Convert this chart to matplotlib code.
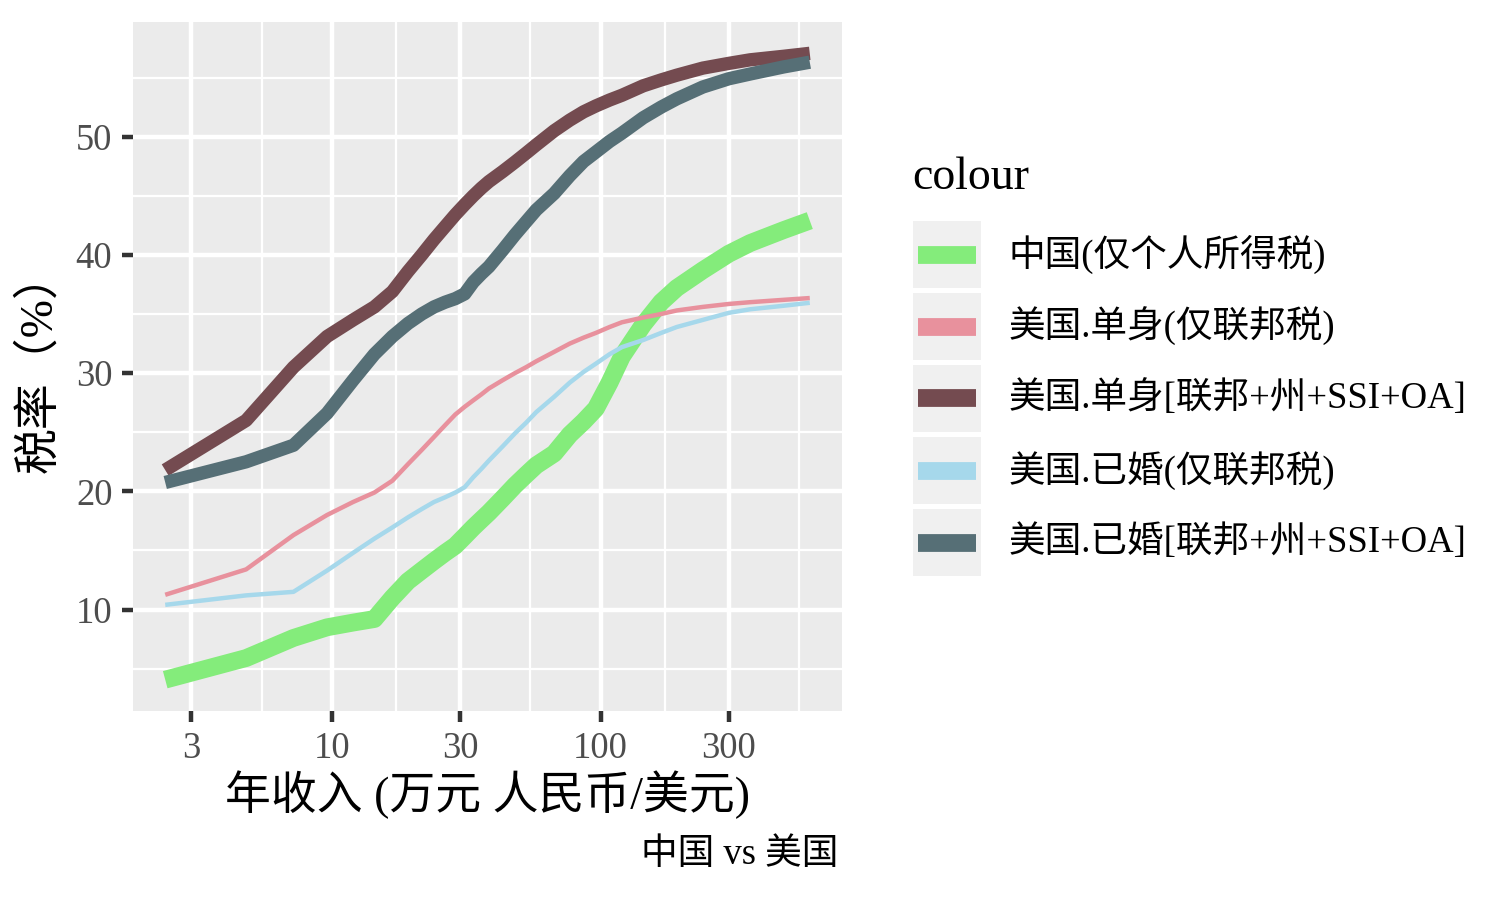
import matplotlib
matplotlib.use("Agg")
import matplotlib.pyplot as plt
import numpy as np
from matplotlib.lines import Line2D
from matplotlib.patches import Rectangle

FONT = ['Liberation Serif', 'Noto Sans CJK SC']
plt.rcParams['font.family'] = FONT

# ---------------- data ----------------
income = [2.4, 4.8, 7.2, 9.6, 12, 14.4, 16.8, 19.2, 21.6, 24, 26.4, 28.8, 31.2, 33.6, 36,
          38.4, 43.2, 48, 52.8, 57.6, 67.2, 76.8, 86.4, 96, 108, 120, 144, 168, 192, 240,
          300, 360, 480, 600]

china = [4.07, 5.9, 7.6, 8.5, 8.9, 9.2, 11.0, 12.4, 13.3, 14.1, 14.8, 15.4, 16.2, 16.95, 17.6,
         18.2, 19.4, 20.5, 21.4, 22.2, 23.2, 24.8, 25.9, 27.0, 29.2, 31.4, 34.1, 36.0, 37.2, 38.7,
         40.1, 41.0, 42.1, 42.9]

us_single_fed = [11.25, 13.4, 16.3, 18.0, 19.1, 19.9, 20.9, 22.3, 23.5, 24.6, 25.6, 26.5, 27.15,
                 27.7, 28.2, 28.7, 29.4, 30.0, 30.5, 31.0, 31.8, 32.5, 33.0, 33.4, 33.9, 34.3, 34.7,
                 35.0, 35.3, 35.6, 35.85, 36.0, 36.2, 36.35]

us_single_all = [21.8, 26.0, 30.5, 33.1, 34.5, 35.6, 36.9, 38.6, 40.0, 41.3, 42.4, 43.4, 44.25, 45.0,
                 45.65, 46.2, 47.05, 47.85, 48.6, 49.3, 50.5, 51.4, 52.1, 52.6, 53.1, 53.5, 54.3, 54.8,
                 55.2, 55.8, 56.2, 56.5, 56.8, 57.05]

us_married_fed = [10.4, 11.2, 11.5, 13.3, 14.8, 16.0, 16.95, 17.8, 18.5, 19.1, 19.5, 19.9, 20.35,
                  21.2, 21.9, 22.6, 23.8, 24.9, 25.8, 26.7, 28.0, 29.2, 30.1, 30.8, 31.6, 32.2, 32.8,
                  33.4, 33.9, 34.5, 35.1, 35.4, 35.7, 35.95]

us_married_all = [20.75, 22.5, 23.9, 26.6, 29.4, 31.6, 33.1, 34.2, 35.0, 35.6, 36.0, 36.3, 36.7,
                  37.7, 38.4, 39.0, 40.4, 41.7, 42.8, 43.8, 45.2, 46.7, 47.9, 48.7, 49.6, 50.3, 51.6,
                  52.5, 53.2, 54.2, 54.9, 55.3, 55.9, 56.3]

labels = ["中国(仅个人所得税)", "美国.单身(仅联邦税)", "美国.单身[联邦+州+SSI+OA]",
          "美国.已婚(仅联邦税)", "美国.已婚[联邦+州+SSI+OA]"]
colors = ["#84EC7B", "#E8919D", "#744B50", "#A6D8EB", "#566F76"]
x_ticks = [3, 10, 30, 100, 300]
y_ticks = [10, 20, 30, 40, 50]

# ---------------- figure ----------------
W, H = 1500, 900
fig = plt.figure(figsize=(5, 3), dpi=300)
fig.patch.set_facecolor("white")


def fx(px):
    return px / W


def fy(py):
    return 1 - py / H


left, right, top, bottom = 133, 842, 22, 711
ax = fig.add_axes([fx(left), fy(bottom), fx(right) - fx(left), (bottom - top) / H])
ax.set_facecolor("#EBEBEB")
for s in ax.spines.values():
    s.set_visible(False)

series = [china, us_single_fed, us_single_all, us_married_fed, us_married_all]
widths = [4.27, 1.07, 3.2, 1.07, 3.2]
zorders = [2, 4, 3, 5, 3.5]
for vals, c, lw, z in zip(series, colors, widths, zorders):
    ax.plot(income, vals, color=c, lw=lw, solid_capstyle="butt", solid_joinstyle="round",
            zorder=z)

ax.set_xscale("log")
lx = np.log10([min(income), max(income)])
rx = lx[1] - lx[0]
ax.set_xlim(10 ** (lx[0] - 0.05 * rx), 10 ** (lx[1] + 0.05 * rx))
allv = np.concatenate([np.array(s) for s in series])
ry = allv.max() - allv.min()
ax.set_ylim(allv.min() - 0.05 * ry, allv.max() + 0.05 * ry)

ax.set_xticks(x_ticks)
ax.set_xticklabels([str(t) for t in x_ticks])
lt = np.log10(x_ticks)
minor_x = list(10 ** ((lt[:-1] + lt[1:]) / 2)) + [10 ** (lt[-1] + (lt[1] - lt[0]) / 2)]
ax.set_xticks(minor_x, minor=True)
ax.xaxis.set_minor_formatter(matplotlib.ticker.NullFormatter())
ax.set_yticks(y_ticks)
ax.set_yticks([5, 15, 25, 35, 45, 55], minor=True)

ax.grid(True, which="major", color="white", lw=1.07, zorder=1)
ax.grid(True, which="minor", color="white", lw=0.53, zorder=1)
ax.set_axisbelow(True)
ax.tick_params(which="major", length=2.75, width=1.07, color="#333333", pad=2.2,
               labelsize=8.8, labelcolor="#4D4D4D")
ax.tick_params(which="minor", length=0)

# axis titles and caption
fig.text(fx((left + right) / 2), fy(795), "年收入 (万元 人民币/美元)", ha="center", va="center",
         fontsize=11, color="black")
fig.text(fx(39), fy(362), "税率（%）", ha="center", va="center",
         rotation=90, fontsize=11, color="black")
fig.text(fx(838), fy(855), "中国 vs 美国", ha="right", va="center", fontsize=8.8, color="black")

# legend (drawn manually to mimic ggplot2)
fig.text(fx(912), fy(178), "colour", ha="left", va="center", fontsize=11, color="black")
box_tops = [221, 293, 365, 437, 509]
box_h = 67
for t, lab, c in zip(box_tops, labels, colors):
    fig.add_artist(Rectangle((fx(913), fy(t + box_h)), (981 - 913) / W, box_h / H,
                             transform=fig.transFigure, facecolor="#F0F0F0", edgecolor="none"))
    fig.add_artist(Line2D([fx(918), fx(976)], [fy(t + box_h / 2), fy(t + box_h / 2)],
                          transform=fig.transFigure, color=c, lw=4.27, solid_capstyle="butt"))
    fig.text(fx(1009), fy(t + box_h / 2), lab, ha="left", va="center", fontsize=8.8,
             color="black")

fig.savefig("out.png", dpi=300)
